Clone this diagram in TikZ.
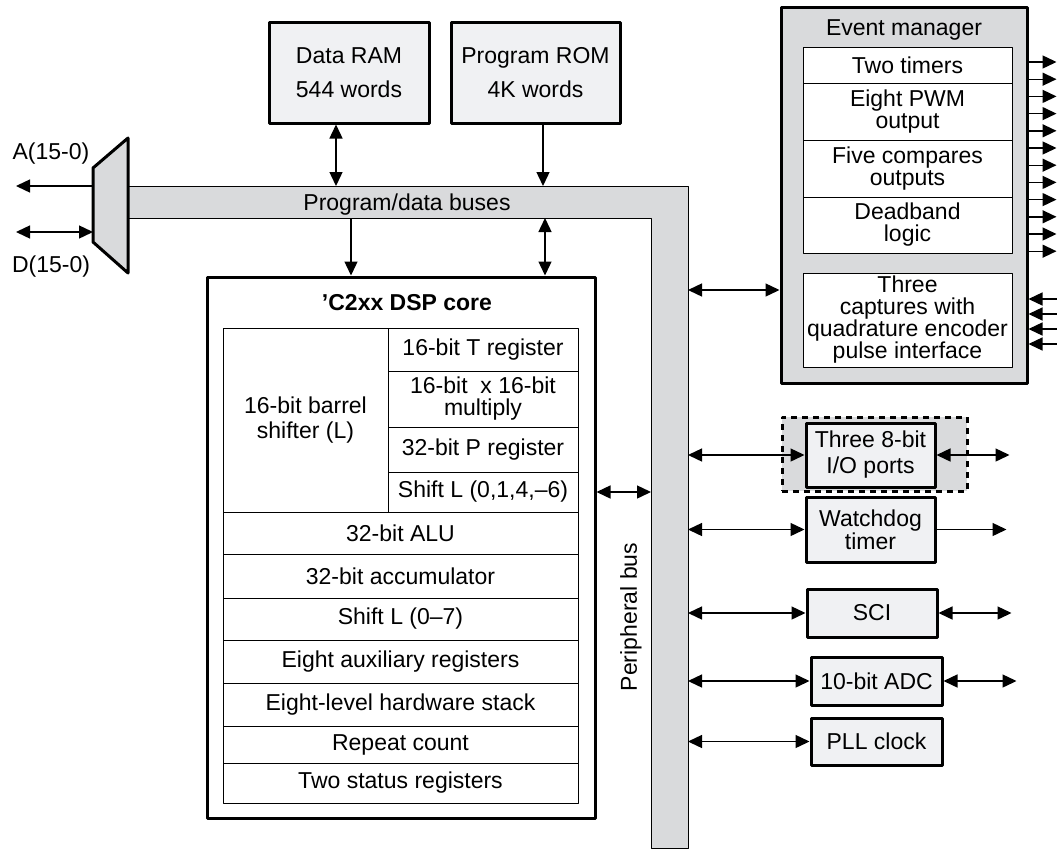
\documentclass[tikz,border=0pt]{standalone}
\usepackage{fontspec}
\setmainfont{Liberation Sans}
\usetikzlibrary{arrows.meta}
\definecolor{busgray}{RGB}{217,218,220}
\definecolor{boxgray}{RGB}{240,241,243}
\begin{document}
\begin{tikzpicture}[x=1pt,y=-1pt,>={Triangle[length=14pt,width=13pt]},
  font=\fontsize{23}{22}\selectfont, line join=round,
  blk/.style={draw,line width=3pt,fill=boxgray,align=center,inner sep=0pt},
  cell/.style={draw,line width=1pt,fill=white,align=center,inner sep=0pt},
  lnk/.style={line width=1.4pt}]
\useasboundingbox (0,0) rectangle (1057,854);
\draw[fill=busgray,line width=1pt] (128,186) -- (688,186) -- (688,848) -- (651,848) -- (651,218) -- (128,218) -- cycle;
\draw[fill=busgray,line width=3pt] (93,168) -- (128,138) -- (128,273) -- (93,242) -- cycle;
\path
  (93,186) coordinate (muxA)
  (93,232) coordinate (muxD)
  (16,186) coordinate (aout)
  (16,232) coordinate (dout)
  (0,186) coordinate (hbT)
  (0,218) coordinate (hbB)
  (651,0) coordinate (pbL)
  (688,0) coordinate (pbR)
  ;
\node (albl) at (51,154) {A(15-0)};
\node (dlbl) at (51,267) {D(15-0)};
\node (pdb) at (407,205) {Program/data buses};
\node[rotate=90] (pbus) at (631,617) {Peripheral bus};
\node[blk,minimum width=160,minimum height=101] (ram) at (349,72.5) {Data RAM\\[12pt]544 words};
\node[blk,minimum width=169,minimum height=101] (rom) at (535.5,72.5) {Program ROM\\[12pt]4K words};
\node[draw,line width=3pt,minimum width=388,minimum height=541] (dsp) at (401,547.5) {};
\node[font=\fontsize{23}{22}\selectfont\bfseries] (dsptitle) at (407,303) {'C2xx DSP core};
\node[cell,minimum width=165,minimum height=184] (barrel) at (305.5,420) {16-bit barrel\\[3pt]shifter (L)};
\foreach \n/\y/\h/\t in {treg/349.5/43/16-bit T register, mult/399/56/{16-bit\ \ x 16-bit\\multiply},
    preg/449.5/45/32-bit P register, shl/492/40/{Shift L (0,1,4,\textendash6)}}
  \node[cell,minimum width=190,minimum height=\h] (\n) at (483,\y) {\t};
\foreach \n/\y/\h/\t in {alu/533/42/32-bit ALU, acc/576/44/32-bit accumulator, shf/619/42/{Shift L (0\textendash7)},
    aux/661.5/43/Eight auxiliary registers, stk/704.5/43/Eight-level hardware stack,
    rpt/744.5/37/Repeat count, sts/783/40/Two status registers}
  \node[cell,minimum width=355,minimum height=\h] (\n) at (400.5,\y) {\t};
\node[blk,fill=busgray,minimum width=246,minimum height=376] (em) at (904,195) {};
\node (emtitle) at (904,30) {Event manager};
\foreach \n/\y/\h/\t in {tmr/65/36/Two timers, pwm/111.5/57/{Eight PWM\\output}, cmp/168.5/57/{Five compares\\outputs},
    dead/225/56/{Deadband\\logic}, cap/320/94/{Three\\captures with\\quadrature encoder\\pulse interface}}
  \node[cell,minimum width=209,minimum height=\h] (\n) at (907.5,\y) {\t};
\node[draw,line width=3pt,dash pattern=on 6pt off 5pt,fill=busgray,minimum width=185,minimum height=74] (iozone) at (874.5,454) {};
\node[blk,minimum width=129,minimum height=64] (io) at (870.5,455) {Three 8-bit\\[4pt]I/O ports};
\node[blk,minimum width=129,minimum height=65] (wd) at (870.5,529.5) {Watchdog\\[1pt]timer};
\node[blk,minimum width=130,minimum height=48] (sci) at (872,613) {SCI};
\node[blk,minimum width=131,minimum height=48] (adc) at (876.5,681) {10-bit ADC};
\node[blk,minimum width=131,minimum height=47] (pll) at (876.5,741.5) {PLL clock};
\draw[lnk,<-] (aout) -- (muxA);
\draw[lnk,<->] (dout) -- (muxD);
\draw[lnk,<->] ([xshift=-13pt]ram.south) -- ([xshift=-13pt]ram.south |- hbT);
\draw[lnk,->] ([xshift=7.5pt]rom.south) -- ([xshift=7.5pt]rom.south |- hbT);
\draw[lnk,->] ([xshift=-50pt]dsp.north |- hbB) -- ([xshift=-50pt]dsp.north);
\draw[lnk,<->] ([xshift=144pt]dsp.north |- hbB) -- ([xshift=144pt]dsp.north);
\draw[lnk,<->] (dsp.east |- shl) -- (pbL |- shl);
\path ([yshift=-95pt]em.west) coordinate (emin);
\draw[lnk,<->] (pbR |- emin) -- (emin);
\foreach \n in {io,wd,sci,adc,pll}
  \draw[lnk,<->] (pbR |- \n.west) -- (\n.west);
\foreach \n in {io,sci,adc}
  \draw[lnk,<->] (\n.east) -- ++(73,0);
\draw[lnk,->] (wd.east) -- ++(70,0);
\foreach \i in {0,...,11}{
  \pgfmathsetmacro\yy{62+17.2*\i}
  \draw[lnk,->] (em.east |- 0,\yy) -- ++(28,0);}
\foreach \yy in {299,314,329,344}
  \draw[lnk,<-] (em.east |- 0,\yy) -- ++(28,0);
\end{tikzpicture}
\end{document}
